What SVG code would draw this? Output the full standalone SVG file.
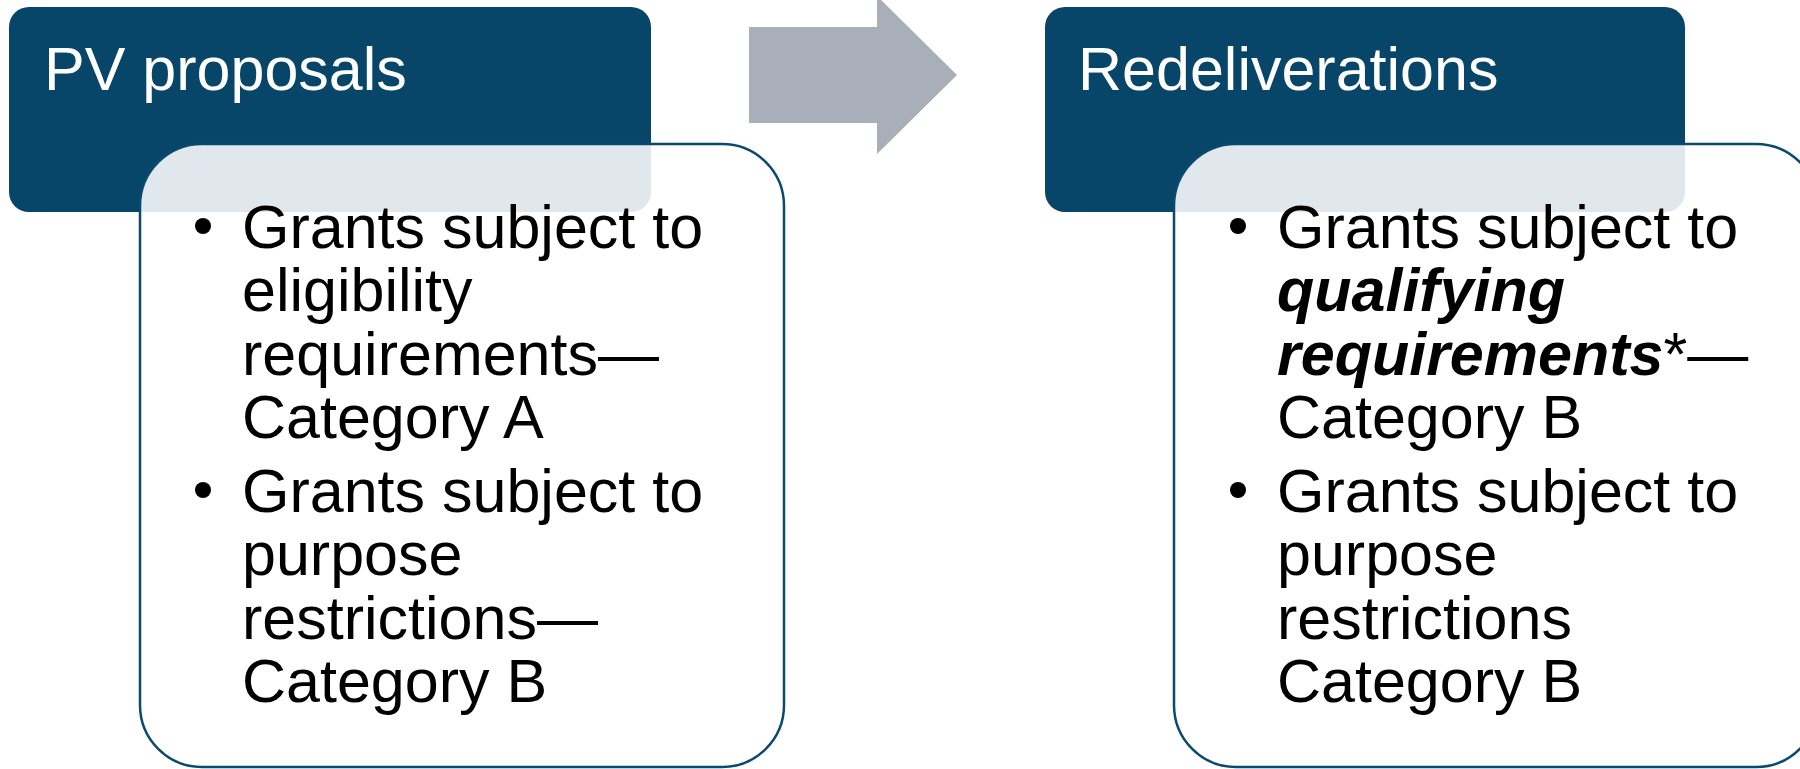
<svg xmlns="http://www.w3.org/2000/svg" width="1800" height="769" viewBox="0 0 1800 769">
  <style>
    .hdr { fill: #074669; }
    .card { fill: #ffffff; fill-opacity: 0.88; stroke: #0b4a6f; stroke-width: 2.5; }
    .title { font-family: "Liberation Sans", Arial, sans-serif; font-size: 61px; fill: #ffffff; }
    .body { font-family: "Liberation Sans", Arial, sans-serif; font-size: 61px; fill: #000000; }
    .em { font-weight: bold; font-style: italic; }
    .dot { fill: #000000; }
  </style>

  <rect width="1800" height="769" fill="#ffffff"/>

  <!-- Left column: current proposals -->
  <g id="pv-proposals">
    <rect class="hdr" x="9" y="7" width="642" height="205" rx="20" ry="20"/>
    <text class="title" x="44" y="90">PV proposals</text>
    <rect class="card" x="140" y="144" width="644" height="623" rx="62" ry="62"/>
    <circle class="dot" cx="203" cy="226" r="8"/>
    <circle class="dot" cx="203" cy="490" r="8"/>
    <text class="body">
      <tspan x="242" y="248">Grants subject to</tspan>
      <tspan x="242" y="311">eligibility</tspan>
      <tspan x="242" y="375">requirements—</tspan>
      <tspan x="242" y="438">Category A</tspan>
      <tspan x="242" y="512">Grants subject to</tspan>
      <tspan x="242" y="575">purpose</tspan>
      <tspan x="242" y="639">restrictions—</tspan>
      <tspan x="242" y="702">Category B</tspan>
    </text>
  </g>

  <!-- Block arrow between the columns -->
  <g id="connectors">
    <polygon fill="#a9afb8" points="749,27 877,27 877,-4 957,75 877,154 877,123 749,123"/>
  </g>

  <!-- Right column: redeliberations -->
  <g id="redeliverations">
    <rect class="hdr" x="1045" y="7" width="640" height="205" rx="20" ry="20"/>
    <text class="title" x="1078" y="90">Redeliverations</text>
    <rect class="card" x="1174" y="144" width="644" height="623" rx="62" ry="62"/>
    <circle class="dot" cx="1238" cy="226" r="8"/>
    <circle class="dot" cx="1238" cy="490" r="8"/>
    <text class="body">
      <tspan x="1277" y="248">Grants subject to</tspan>
      <tspan x="1277" y="311" class="em">qualifying</tspan>
      <tspan x="1277" y="375"><tspan class="em">requirements</tspan>*—</tspan>
      <tspan x="1277" y="438">Category B</tspan>
      <tspan x="1277" y="512">Grants subject to</tspan>
      <tspan x="1277" y="575">purpose</tspan>
      <tspan x="1277" y="639">restrictions</tspan>
      <tspan x="1277" y="702">Category B</tspan>
    </text>
  </g>
</svg>
